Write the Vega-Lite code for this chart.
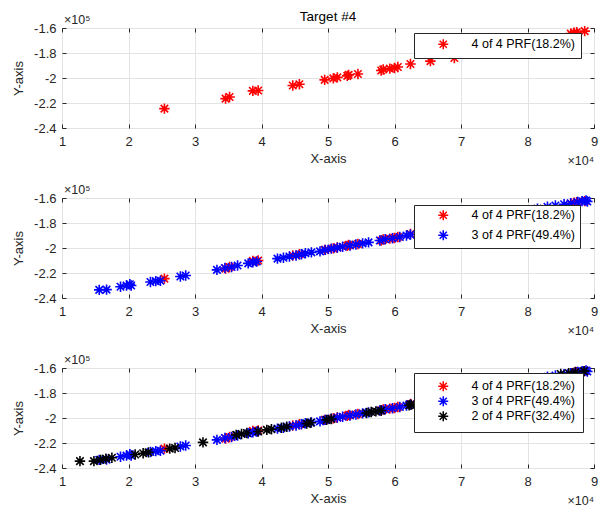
{
  "$schema": "https://vega.github.io/schema/vega-lite/v6.json",
  "padding": {"left": 12, "top": 9, "right": 5, "bottom": 0},
  "bounds": "flush",
  "spacing": 70,
  "config": {
    "font": "Liberation Sans",
    "view": {"stroke": "#262626", "strokeWidth": 1},
    "axis": {
      "labelFont": "Liberation Sans",
      "labelFontSize": 13,
      "labelColor": "#262626",
      "titleFont": "Liberation Sans",
      "titleFontSize": 13,
      "titleFontWeight": "normal",
      "titleColor": "#262626",
      "gridColor": "#e3e3e3",
      "gridWidth": 1,
      "ticks": true,
      "tickSize": -4,
      "tickColor": "#262626",
      "domain": false,
      "labelFlush": false,
      "labelOverlap": false
    },
    "legend": {
      "labelFont": "Liberation Sans",
      "labelFontSize": 12.5,
      "labelColor": "#000000",
      "labelLimit": 250
    },
    "title": {"font": "Liberation Sans", "fontSize": 13.5, "fontWeight": "normal", "color": "#000000", "offset": -9}
  },
  "data": {"values": [
    {"series": "4 of 4 PRF(18.2%)", "x": 25400, "y": -224500},
    {"series": "4 of 4 PRF(18.2%)", "x": 34600, "y": -216500},
    {"series": "4 of 4 PRF(18.2%)", "x": 35200, "y": -215200},
    {"series": "4 of 4 PRF(18.2%)", "x": 38700, "y": -210300},
    {"series": "4 of 4 PRF(18.2%)", "x": 39500, "y": -210000},
    {"series": "4 of 4 PRF(18.2%)", "x": 44700, "y": -206000},
    {"series": "4 of 4 PRF(18.2%)", "x": 45700, "y": -205000},
    {"series": "4 of 4 PRF(18.2%)", "x": 49500, "y": -201500},
    {"series": "4 of 4 PRF(18.2%)", "x": 50800, "y": -200300},
    {"series": "4 of 4 PRF(18.2%)", "x": 51400, "y": -199500},
    {"series": "4 of 4 PRF(18.2%)", "x": 52900, "y": -198300},
    {"series": "4 of 4 PRF(18.2%)", "x": 53100, "y": -197500},
    {"series": "4 of 4 PRF(18.2%)", "x": 54500, "y": -196800},
    {"series": "4 of 4 PRF(18.2%)", "x": 58000, "y": -194000},
    {"series": "4 of 4 PRF(18.2%)", "x": 58300, "y": -193200},
    {"series": "4 of 4 PRF(18.2%)", "x": 59300, "y": -192500},
    {"series": "4 of 4 PRF(18.2%)", "x": 60000, "y": -192000},
    {"series": "4 of 4 PRF(18.2%)", "x": 60500, "y": -191200},
    {"series": "4 of 4 PRF(18.2%)", "x": 62400, "y": -188800},
    {"series": "4 of 4 PRF(18.2%)", "x": 65400, "y": -186500},
    {"series": "4 of 4 PRF(18.2%)", "x": 69000, "y": -184000},
    {"series": "4 of 4 PRF(18.2%)", "x": 72500, "y": -180500},
    {"series": "4 of 4 PRF(18.2%)", "x": 76500, "y": -176500},
    {"series": "4 of 4 PRF(18.2%)", "x": 80500, "y": -172000},
    {"series": "4 of 4 PRF(18.2%)", "x": 86500, "y": -164500},
    {"series": "4 of 4 PRF(18.2%)", "x": 87000, "y": -163700},
    {"series": "4 of 4 PRF(18.2%)", "x": 87400, "y": -163300},
    {"series": "4 of 4 PRF(18.2%)", "x": 88600, "y": -162500},
    {"series": "3 of 4 PRF(49.4%)", "x": 15600, "y": -233500},
    {"series": "3 of 4 PRF(49.4%)", "x": 16700, "y": -233300},
    {"series": "3 of 4 PRF(49.4%)", "x": 18800, "y": -231000},
    {"series": "3 of 4 PRF(49.4%)", "x": 19700, "y": -230000},
    {"series": "3 of 4 PRF(49.4%)", "x": 20200, "y": -229000},
    {"series": "3 of 4 PRF(49.4%)", "x": 20400, "y": -230000},
    {"series": "3 of 4 PRF(49.4%)", "x": 23300, "y": -227200},
    {"series": "3 of 4 PRF(49.4%)", "x": 24100, "y": -226500},
    {"series": "3 of 4 PRF(49.4%)", "x": 24800, "y": -226200},
    {"series": "3 of 4 PRF(49.4%)", "x": 27800, "y": -222800},
    {"series": "3 of 4 PRF(49.4%)", "x": 28600, "y": -222000},
    {"series": "3 of 4 PRF(49.4%)", "x": 33300, "y": -217500},
    {"series": "3 of 4 PRF(49.4%)", "x": 34500, "y": -216000},
    {"series": "3 of 4 PRF(49.4%)", "x": 35500, "y": -215200},
    {"series": "3 of 4 PRF(49.4%)", "x": 36400, "y": -214000},
    {"series": "3 of 4 PRF(49.4%)", "x": 38000, "y": -212300},
    {"series": "3 of 4 PRF(49.4%)", "x": 38700, "y": -211500},
    {"series": "3 of 4 PRF(49.4%)", "x": 39300, "y": -210800},
    {"series": "3 of 4 PRF(49.4%)", "x": 42400, "y": -208500},
    {"series": "3 of 4 PRF(49.4%)", "x": 43300, "y": -207800},
    {"series": "3 of 4 PRF(49.4%)", "x": 44200, "y": -206800},
    {"series": "3 of 4 PRF(49.4%)", "x": 45200, "y": -206000},
    {"series": "3 of 4 PRF(49.4%)", "x": 46000, "y": -205000},
    {"series": "3 of 4 PRF(49.4%)", "x": 46600, "y": -204200},
    {"series": "3 of 4 PRF(49.4%)", "x": 47500, "y": -203500},
    {"series": "3 of 4 PRF(49.4%)", "x": 48800, "y": -202700},
    {"series": "3 of 4 PRF(49.4%)", "x": 49600, "y": -201500},
    {"series": "3 of 4 PRF(49.4%)", "x": 50500, "y": -200500},
    {"series": "3 of 4 PRF(49.4%)", "x": 51400, "y": -199700},
    {"series": "3 of 4 PRF(49.4%)", "x": 52200, "y": -199000},
    {"series": "3 of 4 PRF(49.4%)", "x": 53300, "y": -198000},
    {"series": "3 of 4 PRF(49.4%)", "x": 54200, "y": -197200},
    {"series": "3 of 4 PRF(49.4%)", "x": 55200, "y": -196300},
    {"series": "3 of 4 PRF(49.4%)", "x": 56100, "y": -195500},
    {"series": "3 of 4 PRF(49.4%)", "x": 57800, "y": -194000},
    {"series": "3 of 4 PRF(49.4%)", "x": 58600, "y": -193000},
    {"series": "3 of 4 PRF(49.4%)", "x": 59700, "y": -192200},
    {"series": "3 of 4 PRF(49.4%)", "x": 60800, "y": -191200},
    {"series": "3 of 4 PRF(49.4%)", "x": 61800, "y": -190000},
    {"series": "3 of 4 PRF(49.4%)", "x": 62400, "y": -189300},
    {"series": "3 of 4 PRF(49.4%)", "x": 66000, "y": -186000},
    {"series": "3 of 4 PRF(49.4%)", "x": 70000, "y": -182500},
    {"series": "3 of 4 PRF(49.4%)", "x": 74000, "y": -178500},
    {"series": "3 of 4 PRF(49.4%)", "x": 78000, "y": -174000},
    {"series": "3 of 4 PRF(49.4%)", "x": 81500, "y": -168500},
    {"series": "3 of 4 PRF(49.4%)", "x": 83000, "y": -167000},
    {"series": "3 of 4 PRF(49.4%)", "x": 84200, "y": -166000},
    {"series": "3 of 4 PRF(49.4%)", "x": 85500, "y": -165000},
    {"series": "3 of 4 PRF(49.4%)", "x": 86500, "y": -164200},
    {"series": "3 of 4 PRF(49.4%)", "x": 87500, "y": -163200},
    {"series": "3 of 4 PRF(49.4%)", "x": 88200, "y": -162500},
    {"series": "3 of 4 PRF(49.4%)", "x": 88800, "y": -162000},
    {"series": "3 of 4 PRF(49.4%)", "x": 89000, "y": -162800},
    {"series": "2 of 4 PRF(32.4%)", "x": 12700, "y": -234500},
    {"series": "2 of 4 PRF(32.4%)", "x": 14800, "y": -234500},
    {"series": "2 of 4 PRF(32.4%)", "x": 15800, "y": -233500},
    {"series": "2 of 4 PRF(32.4%)", "x": 16600, "y": -232500},
    {"series": "2 of 4 PRF(32.4%)", "x": 17500, "y": -231800},
    {"series": "2 of 4 PRF(32.4%)", "x": 21000, "y": -229200},
    {"series": "2 of 4 PRF(32.4%)", "x": 22200, "y": -228200},
    {"series": "2 of 4 PRF(32.4%)", "x": 23000, "y": -227500},
    {"series": "2 of 4 PRF(32.4%)", "x": 26200, "y": -224500},
    {"series": "2 of 4 PRF(32.4%)", "x": 27000, "y": -224000},
    {"series": "2 of 4 PRF(32.4%)", "x": 31200, "y": -219500},
    {"series": "2 of 4 PRF(32.4%)", "x": 36200, "y": -213500},
    {"series": "2 of 4 PRF(32.4%)", "x": 37000, "y": -212800},
    {"series": "2 of 4 PRF(32.4%)", "x": 37800, "y": -212000},
    {"series": "2 of 4 PRF(32.4%)", "x": 39500, "y": -210800},
    {"series": "2 of 4 PRF(32.4%)", "x": 40800, "y": -209500},
    {"series": "2 of 4 PRF(32.4%)", "x": 41500, "y": -209000},
    {"series": "2 of 4 PRF(32.4%)", "x": 43000, "y": -207800},
    {"series": "2 of 4 PRF(32.4%)", "x": 43800, "y": -207000},
    {"series": "2 of 4 PRF(32.4%)", "x": 46800, "y": -204500},
    {"series": "2 of 4 PRF(32.4%)", "x": 47400, "y": -203800},
    {"series": "2 of 4 PRF(32.4%)", "x": 49800, "y": -201500},
    {"series": "2 of 4 PRF(32.4%)", "x": 50500, "y": -200800},
    {"series": "2 of 4 PRF(32.4%)", "x": 55800, "y": -196000},
    {"series": "2 of 4 PRF(32.4%)", "x": 56500, "y": -195200},
    {"series": "2 of 4 PRF(32.4%)", "x": 57200, "y": -194700},
    {"series": "2 of 4 PRF(32.4%)", "x": 58000, "y": -194000},
    {"series": "2 of 4 PRF(32.4%)", "x": 62200, "y": -189800},
    {"series": "2 of 4 PRF(32.4%)", "x": 62500, "y": -189300},
    {"series": "2 of 4 PRF(32.4%)", "x": 85000, "y": -164800},
    {"series": "2 of 4 PRF(32.4%)", "x": 86200, "y": -164200},
    {"series": "2 of 4 PRF(32.4%)", "x": 87200, "y": -163200},
    {"series": "2 of 4 PRF(32.4%)", "x": 88500, "y": -162500}
  ]},
  "resolve": {"scale": {"color": "independent"}, "legend": {"color": "independent"}},
  "vconcat": [
    {
      "title": "Target #4",
      "width": 532, "height": 100,
      "resolve": {"axis": {"x": "independent", "y": "independent"}},
      "layer": [
        {
          "transform": [{"filter": {"field": "series", "oneOf": ["4 of 4 PRF(18.2%)"]}}],
          "mark": {"type": "point", "shape": "M-1,0L1,0M0,-1L0,1M-0.71,-0.71L0.71,0.71M-0.71,0.71L0.71,-0.71", "filled": false, "size": 110, "strokeWidth": 1.6, "opacity": 1},
          "encoding": {
            "x": {"field": "x", "type": "quantitative", "scale": {"domain": [10000, 90000], "nice": false}, "axis": {"title": "X-axis", "values": [10000, 20000, 30000, 40000, 50000, 60000, 70000, 80000, 90000], "tickCount": 20, "labelExpr": "'' + (datum.value / 10000)", "labelPadding": 11, "titlePadding": 4, "labelOverlap": false, "labelFlush": false}},
            "y": {"field": "y", "type": "quantitative", "scale": {"domain": [-240000, -160000], "nice": false, "zero": false}, "axis": {"title": "Y-axis", "values": [-240000, -220000, -200000, -180000, -160000], "tickCount": 10, "labelExpr": "'' + (datum.value / 100000)", "labelPadding": 10, "titlePadding": 8, "labelOverlap": false, "labelFlush": false}},
            "color": {"field": "series", "type": "nominal", "scale": {"domain": ["4 of 4 PRF(18.2%)"], "range": ["#ff0000"]},
              "legend": {"title": null, "orient": "none", "legendX": 352, "legendY": 5, "fillColor": "white", "strokeColor": "#262626", "padding": 5, "symbolType": "M-1,0L1,0M0,-1L0,1M-0.71,-0.71L0.71,0.71M-0.71,0.71L0.71,-0.71", "symbolSize": 100, "symbolStrokeWidth": 1.5, "symbolOffset": 18, "labelOffset": 22, "rowPadding": 2}}
          }
        },
        {
          "data": {"values": [{}]},
          "mark": {"type": "text", "text": "×10⁵", "align": "left", "baseline": "bottom", "dx": 2, "dy": -1, "fontSize": 12.5, "color": "#262626"},
          "encoding": {"x": {"datum": 10000, "type": "quantitative", "axis": null}, "y": {"datum": -160000, "type": "quantitative", "axis": {"orient": "right", "labels": false, "title": null, "grid": false, "values": [-240000, -220000, -200000, -180000, -160000], "tickCount": 10}}}
        },
        {
          "data": {"values": [{}]},
          "mark": {"type": "text", "text": "×10⁴", "align": "right", "baseline": "middle", "dy": 33, "fontSize": 12.5, "color": "#262626"},
          "encoding": {"x": {"datum": 90000, "type": "quantitative", "axis": {"orient": "top", "labels": false, "title": null, "grid": false, "values": [10000, 20000, 30000, 40000, 50000, 60000, 70000, 80000, 90000], "tickCount": 20}}, "y": {"datum": -240000, "type": "quantitative", "axis": null}}
        }
      ]
    },
    {
      "width": 532, "height": 100,
      "resolve": {"axis": {"x": "independent", "y": "independent"}},
      "layer": [
        {
          "transform": [{"filter": {"field": "series", "oneOf": ["4 of 4 PRF(18.2%)", "3 of 4 PRF(49.4%)"]}}],
          "mark": {"type": "point", "shape": "M-1,0L1,0M0,-1L0,1M-0.71,-0.71L0.71,0.71M-0.71,0.71L0.71,-0.71", "filled": false, "size": 110, "strokeWidth": 1.6, "opacity": 1},
          "encoding": {
            "x": {"field": "x", "type": "quantitative", "scale": {"domain": [10000, 90000], "nice": false}, "axis": {"title": "X-axis", "values": [10000, 20000, 30000, 40000, 50000, 60000, 70000, 80000, 90000], "tickCount": 20, "labelExpr": "'' + (datum.value / 10000)", "labelPadding": 11, "titlePadding": 4, "labelOverlap": false, "labelFlush": false}},
            "y": {"field": "y", "type": "quantitative", "scale": {"domain": [-240000, -160000], "nice": false, "zero": false}, "axis": {"title": "Y-axis", "values": [-240000, -220000, -200000, -180000, -160000], "tickCount": 10, "labelExpr": "'' + (datum.value / 100000)", "labelPadding": 10, "titlePadding": 8, "labelOverlap": false, "labelFlush": false}},
            "color": {"field": "series", "type": "nominal", "scale": {"domain": ["4 of 4 PRF(18.2%)", "3 of 4 PRF(49.4%)"], "range": ["#ff0000", "#0000ff"]},
              "legend": {"title": null, "orient": "none", "legendX": 352, "legendY": 7, "fillColor": "white", "strokeColor": "#262626", "padding": 4, "symbolType": "M-1,0L1,0M0,-1L0,1M-0.71,-0.71L0.71,0.71M-0.71,0.71L0.71,-0.71", "symbolSize": 100, "symbolStrokeWidth": 1.5, "symbolOffset": 19, "labelOffset": 22, "rowPadding": 3}}
          }
        },
        {
          "data": {"values": [{}]},
          "mark": {"type": "text", "text": "×10⁵", "align": "left", "baseline": "bottom", "dx": 2, "dy": -1, "fontSize": 12.5, "color": "#262626"},
          "encoding": {"x": {"datum": 10000, "type": "quantitative", "axis": null}, "y": {"datum": -160000, "type": "quantitative", "axis": {"orient": "right", "labels": false, "title": null, "grid": false, "values": [-240000, -220000, -200000, -180000, -160000], "tickCount": 10}}}
        },
        {
          "data": {"values": [{}]},
          "mark": {"type": "text", "text": "×10⁴", "align": "right", "baseline": "middle", "dy": 33, "fontSize": 12.5, "color": "#262626"},
          "encoding": {"x": {"datum": 90000, "type": "quantitative", "axis": {"orient": "top", "labels": false, "title": null, "grid": false, "values": [10000, 20000, 30000, 40000, 50000, 60000, 70000, 80000, 90000], "tickCount": 20}}, "y": {"datum": -240000, "type": "quantitative", "axis": null}}
        }
      ]
    },
    {
      "width": 532, "height": 100,
      "resolve": {"axis": {"x": "independent", "y": "independent"}},
      "layer": [
        {
          "mark": {"type": "point", "shape": "M-1,0L1,0M0,-1L0,1M-0.71,-0.71L0.71,0.71M-0.71,0.71L0.71,-0.71", "filled": false, "size": 110, "strokeWidth": 1.6, "opacity": 1},
          "encoding": {
            "x": {"field": "x", "type": "quantitative", "scale": {"domain": [10000, 90000], "nice": false}, "axis": {"title": "X-axis", "values": [10000, 20000, 30000, 40000, 50000, 60000, 70000, 80000, 90000], "tickCount": 20, "labelExpr": "'' + (datum.value / 10000)", "labelPadding": 11, "titlePadding": 4, "labelOverlap": false, "labelFlush": false}},
            "y": {"field": "y", "type": "quantitative", "scale": {"domain": [-240000, -160000], "nice": false, "zero": false}, "axis": {"title": "Y-axis", "values": [-240000, -220000, -200000, -180000, -160000], "tickCount": 10, "labelExpr": "'' + (datum.value / 100000)", "labelPadding": 10, "titlePadding": 8, "labelOverlap": false, "labelFlush": false}},
            "color": {"field": "series", "type": "nominal", "scale": {"domain": ["4 of 4 PRF(18.2%)", "3 of 4 PRF(49.4%)", "2 of 4 PRF(32.4%)"], "range": ["#ff0000", "#0000ff", "#000000"]},
              "legend": {"title": null, "orient": "none", "legendX": 352, "legendY": 5, "fillColor": "white", "strokeColor": "#262626", "padding": 7, "symbolType": "M-1,0L1,0M0,-1L0,1M-0.71,-0.71L0.71,0.71M-0.71,0.71L0.71,-0.71", "symbolSize": 100, "symbolStrokeWidth": 1.5, "symbolOffset": 16, "labelOffset": 22, "rowPadding": -2}}
          }
        },
        {
          "data": {"values": [{}]},
          "mark": {"type": "text", "text": "×10⁵", "align": "left", "baseline": "bottom", "dx": 2, "dy": -1, "fontSize": 12.5, "color": "#262626"},
          "encoding": {"x": {"datum": 10000, "type": "quantitative", "axis": null}, "y": {"datum": -160000, "type": "quantitative", "axis": {"orient": "right", "labels": false, "title": null, "grid": false, "values": [-240000, -220000, -200000, -180000, -160000], "tickCount": 10}}}
        },
        {
          "data": {"values": [{}]},
          "mark": {"type": "text", "text": "×10⁴", "align": "right", "baseline": "middle", "dy": 33, "fontSize": 12.5, "color": "#262626"},
          "encoding": {"x": {"datum": 90000, "type": "quantitative", "axis": {"orient": "top", "labels": false, "title": null, "grid": false, "values": [10000, 20000, 30000, 40000, 50000, 60000, 70000, 80000, 90000], "tickCount": 20}}, "y": {"datum": -240000, "type": "quantitative", "axis": null}}
        }
      ]
    }
  ]
}
